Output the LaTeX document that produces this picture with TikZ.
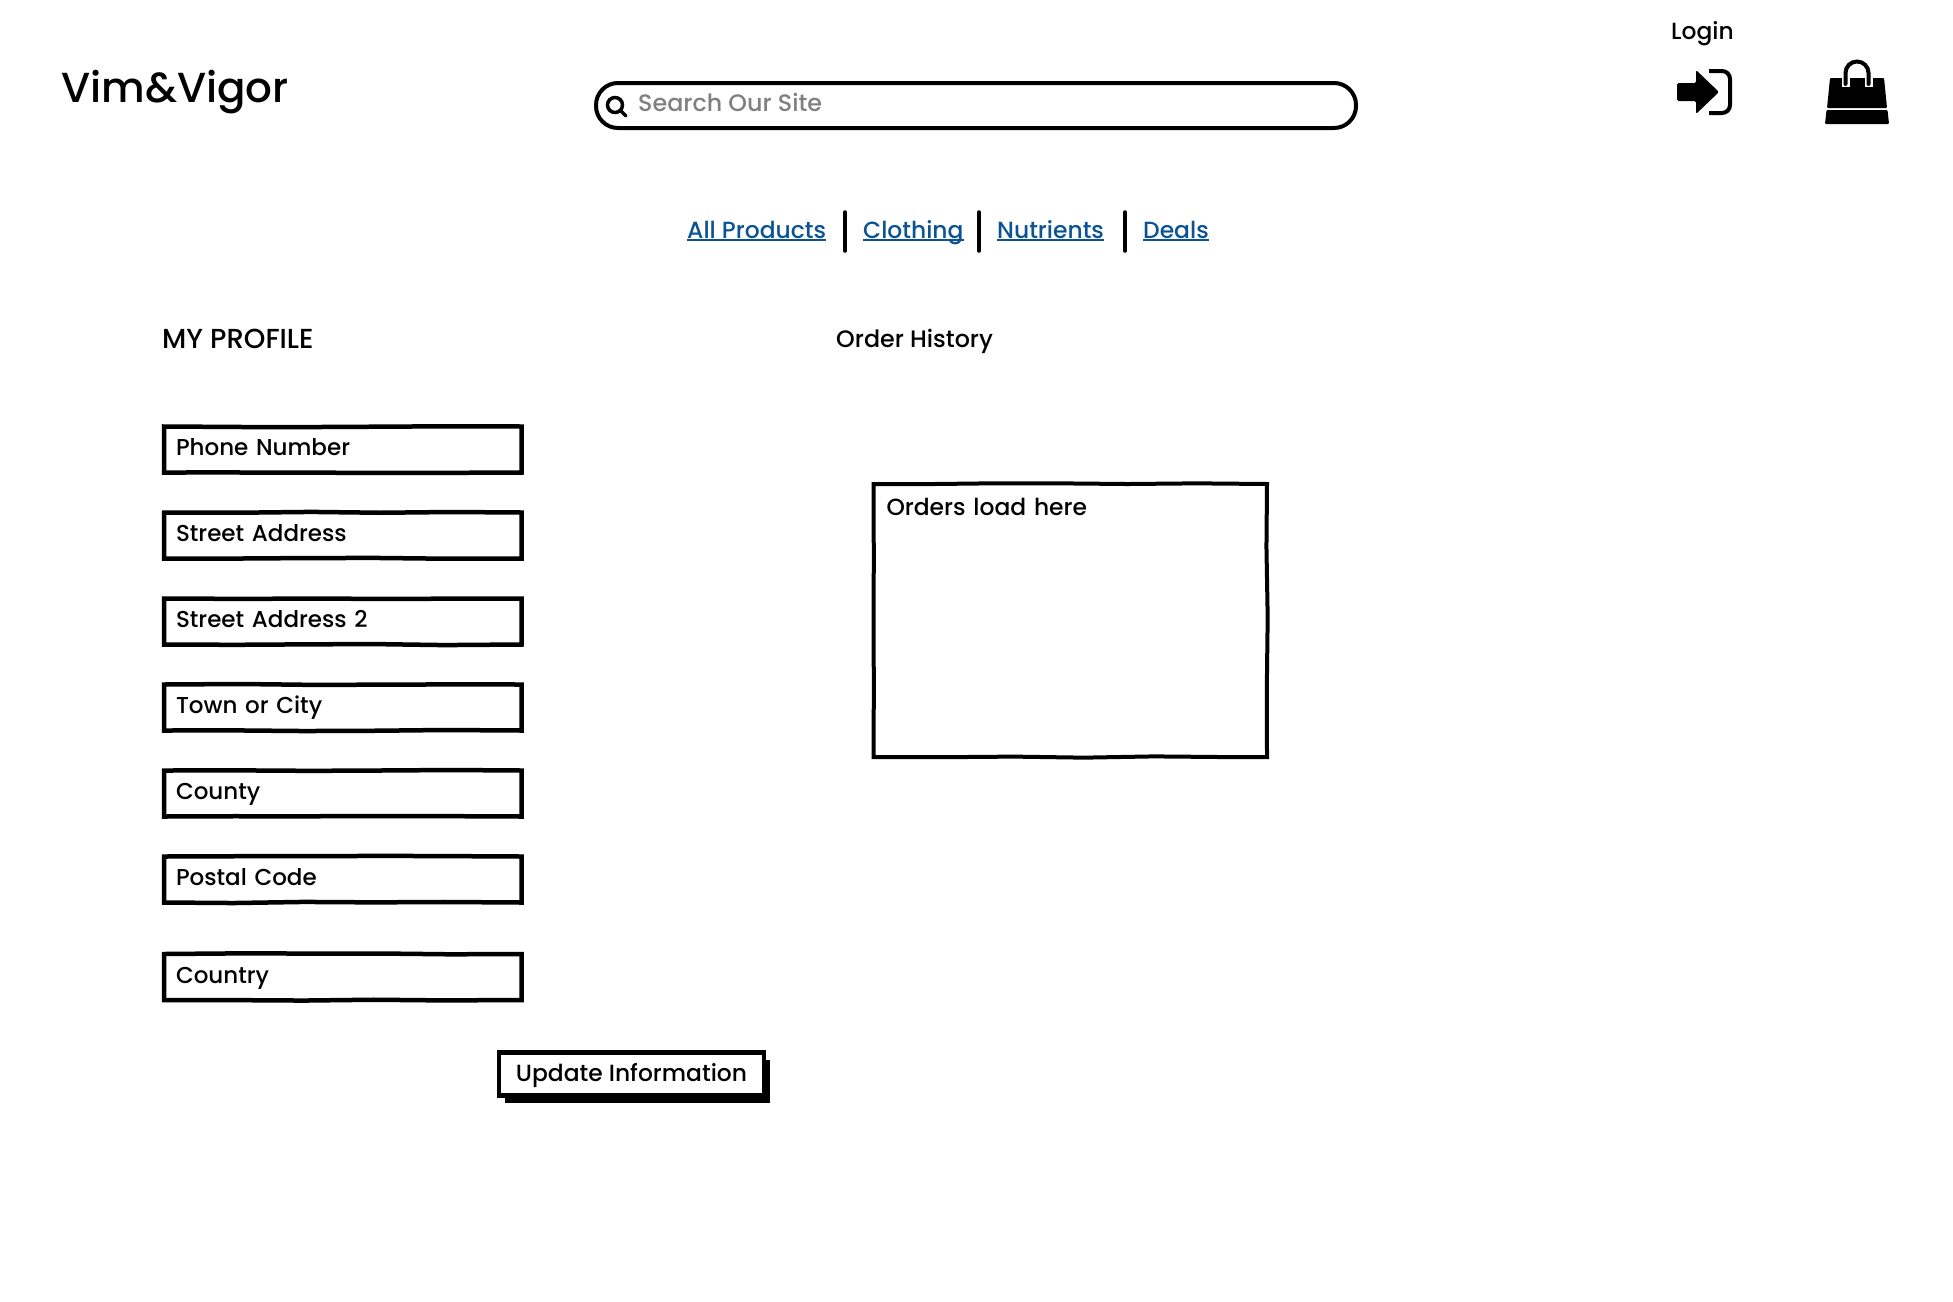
\documentclass[tikz,border=0pt]{standalone}
\usepackage{fontspec}
\setmainfont{Poppins}[UprightFont=* Medium]
\usetikzlibrary{decorations.pathmorphing,shadows}
\definecolor{linkblue}{HTML}{0B5394}
\definecolor{hintgrey}{HTML}{808080}
\newcommand{\navlink}[1]{\setbox0\hbox{#1}\rlap{\rule[-2.5pt]{\wd0}{1.4pt}}\box0}
\tikzset{
    sketchy/.style={decorate,decoration={random steps,segment length=70pt,amplitude=0.7pt}},
    label/.style={font=\fontsize{23.4}{28}\selectfont,anchor=base west,inner sep=0pt},
    navitem/.style={label,text=linkblue},
    fieldbox/.style={draw,sketchy,line width=4.5pt,outer sep=0pt,minimum width=357.5pt,minimum height=46pt,anchor=west,
        text width=333.5pt,inner xsep=12pt,inner ysep=0pt,align=left,text height=18pt,text depth=6pt,
        font=\fontsize{23}{28}\selectfont},
    navbar/.style={line width=3.5pt,line cap=round}
}
\begin{document}
\pgfmathsetseed{11}
\begin{tikzpicture}[x=1pt,y=-1pt]
    \useasboundingbox (0,0) rectangle (1953,1301);
    \node[label,font=\fontsize{42}{48}\selectfont] (logo) at (61,102) {Vim\&Vigor};
    \node[draw,line width=4pt,rounded corners=22pt,outer sep=0pt,minimum width=760pt,minimum height=45pt,anchor=north west] (search) at (596,83) {};
    \draw[line width=3.5pt] (615,105) circle (7.5);
    \draw[line width=3.5pt,line cap=round] (620.5,110.5) -- (626,116);
    \node[label,text=hintgrey,font=\fontsize{23.8}{28}\selectfont] (hint) at (638,111) {Search Our Site};
    \node[label] (login) at (1671,39) {Login};
    \fill[rounded corners=1.5pt] (1677,83) -- (1696,83) -- (1696,70) -- (1719,92) -- (1696,114) -- (1696,101) -- (1677,101) -- cycle;
    \draw[line width=4pt,rounded corners=8pt] (1709,71) -- (1730,71) -- (1730,113) -- (1709,113);
    \fill[rounded corners=1pt] (1830,78) -- (1884,78) -- (1887,108) -- (1827,108) -- cycle;
    \fill[rounded corners=1pt] (1826.5,110) -- (1887.5,110) -- (1889,124) -- (1825,124) -- cycle;
    \draw[white,line width=8pt] (1845.5,87) -- (1845.5,78);
    \draw[white,line width=8pt] (1868.5,87) -- (1868.5,78);
    \draw[line width=4pt,line cap=round] (1845.5,84) -- (1845.5,73) arc (180:360:11.5) -- (1868.5,84);
    \node[navitem] (allproducts) at (687,238) {\navlink{All Products}};
    \node[navitem] (clothing) at (863,238) {\navlink{Clothing}};
    \node[navitem] (nutrients) at (997,238) {\navlink{Nutrients}};
    \node[navitem] (deals) at (1143,238) {\navlink{Deals}};
    \coordinate (barAtop) at (845,212);
    \coordinate (barAbot) at (845,251);
    \coordinate (barBtop) at (979,212);
    \coordinate (barBbot) at (979,251);
    \coordinate (barCtop) at (1125,212);
    \coordinate (barCbot) at (1125,251);
    \draw[navbar] (barAtop) -- (barAbot);
    \draw[navbar] (barBtop) -- (barBbot);
    \draw[navbar] (barCtop) -- (barCbot);
    \node[label,font=\fontsize{27.5}{32}\selectfont] (profile) at (162,348) {MY PROFILE};
    \node[label,font=\fontsize{23.8}{28}\selectfont] (history) at (836,347) {Order History};
    \node[fieldbox] (phone) at (164,449.5) {Phone Number};
    \node[fieldbox] (street) at (164,535.5) {Street Address};
    \node[fieldbox] (streettwo) at (164,621.5) {Street Address 2};
    \node[fieldbox] (town) at (164,707.5) {Town or City};
    \node[fieldbox] (county) at (164,793.5) {County};
    \node[fieldbox] (postal) at (164,879.5) {Postal Code};
    \node[fieldbox] (country) at (164,977) {Country};
    \node[fieldbox,anchor=north west,line width=4pt,minimum width=393.5pt,text width=367.5pt,inner xsep=13pt,inner ysep=13pt,text depth=229pt,font=\fontsize{23.4}{28}\selectfont] (orders) at (873.5,484) {Orders load here};
    \node[draw,line width=4.5pt,outer sep=0pt,fill=white,minimum width=265pt,minimum height=43pt,inner sep=0pt,text height=18pt,text depth=3pt,
        font=\fontsize{23.4}{28}\selectfont,drop shadow={fill=black,opacity=1,shadow xshift=6pt,shadow yshift=-7pt}] (update) at (631.5,1074) {Update Information};
\end{tikzpicture}
\end{document}
